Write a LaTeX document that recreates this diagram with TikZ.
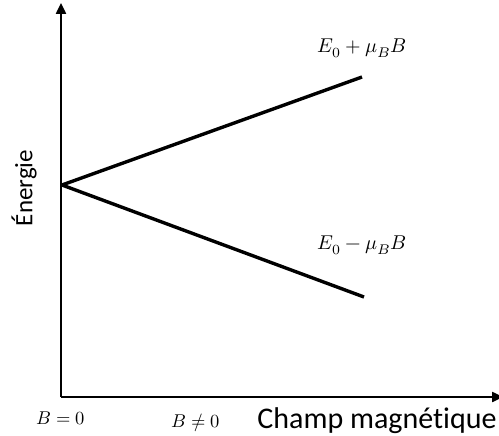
\documentclass[tikz,border=0pt]{standalone}
\usepackage{unicode-math}
\setsansfont{Carlito}[Ligatures=NoCommon]
\usetikzlibrary{arrows.meta}
\begin{document}
\begin{tikzpicture}[x=1pt,y=-1pt,
  axis/.style={line width=2.4pt},
  level/.style={line width=3.4pt},
  mathlbl/.style={inner sep=0pt,anchor=base,scale=2.0},
  ticklbl/.style={inner sep=0pt,anchor=base,scale=1.85},
  axlbl/.style={inner sep=0pt,anchor=base,font=\sffamily\fontsize{30}{36}\selectfont}]
\useasboundingbox (0,0) rectangle (499,436);
\coordinate (O) at (61,397);
\coordinate (Ytop) at (61,3);
\coordinate (Xend) at (503,397);
\coordinate (C) at (62,185);
\coordinate (U) at (362,77);
\coordinate (L) at (364,297);
\draw[axis,-{Triangle[width=10pt,length=11pt]}] (O) -- (Ytop);
\draw[axis,-{Triangle[width=10pt,length=11pt]}] (O) -- (Xend);
\draw[level] (C) -- (U);
\draw[level] (C) -- (L);
\node[mathlbl] (up) at (362,53) {$E_0+\mu_B B$};
\node[mathlbl] (lo) at (362,250) {$E_0-\mu_B B$};
\node[ticklbl] (b0) at (61,424) {$B=0$};
\node[ticklbl] (b1) at (196,427) {$B\neq 0$};
\node[axlbl] (xl) at (377,428) {Champ magnétique};
\node[inner sep=0pt,rotate=90,font=\sffamily\fontsize{25}{30}\selectfont] (yl) at (24,188) {Énergie};
\end{tikzpicture}
\end{document}
